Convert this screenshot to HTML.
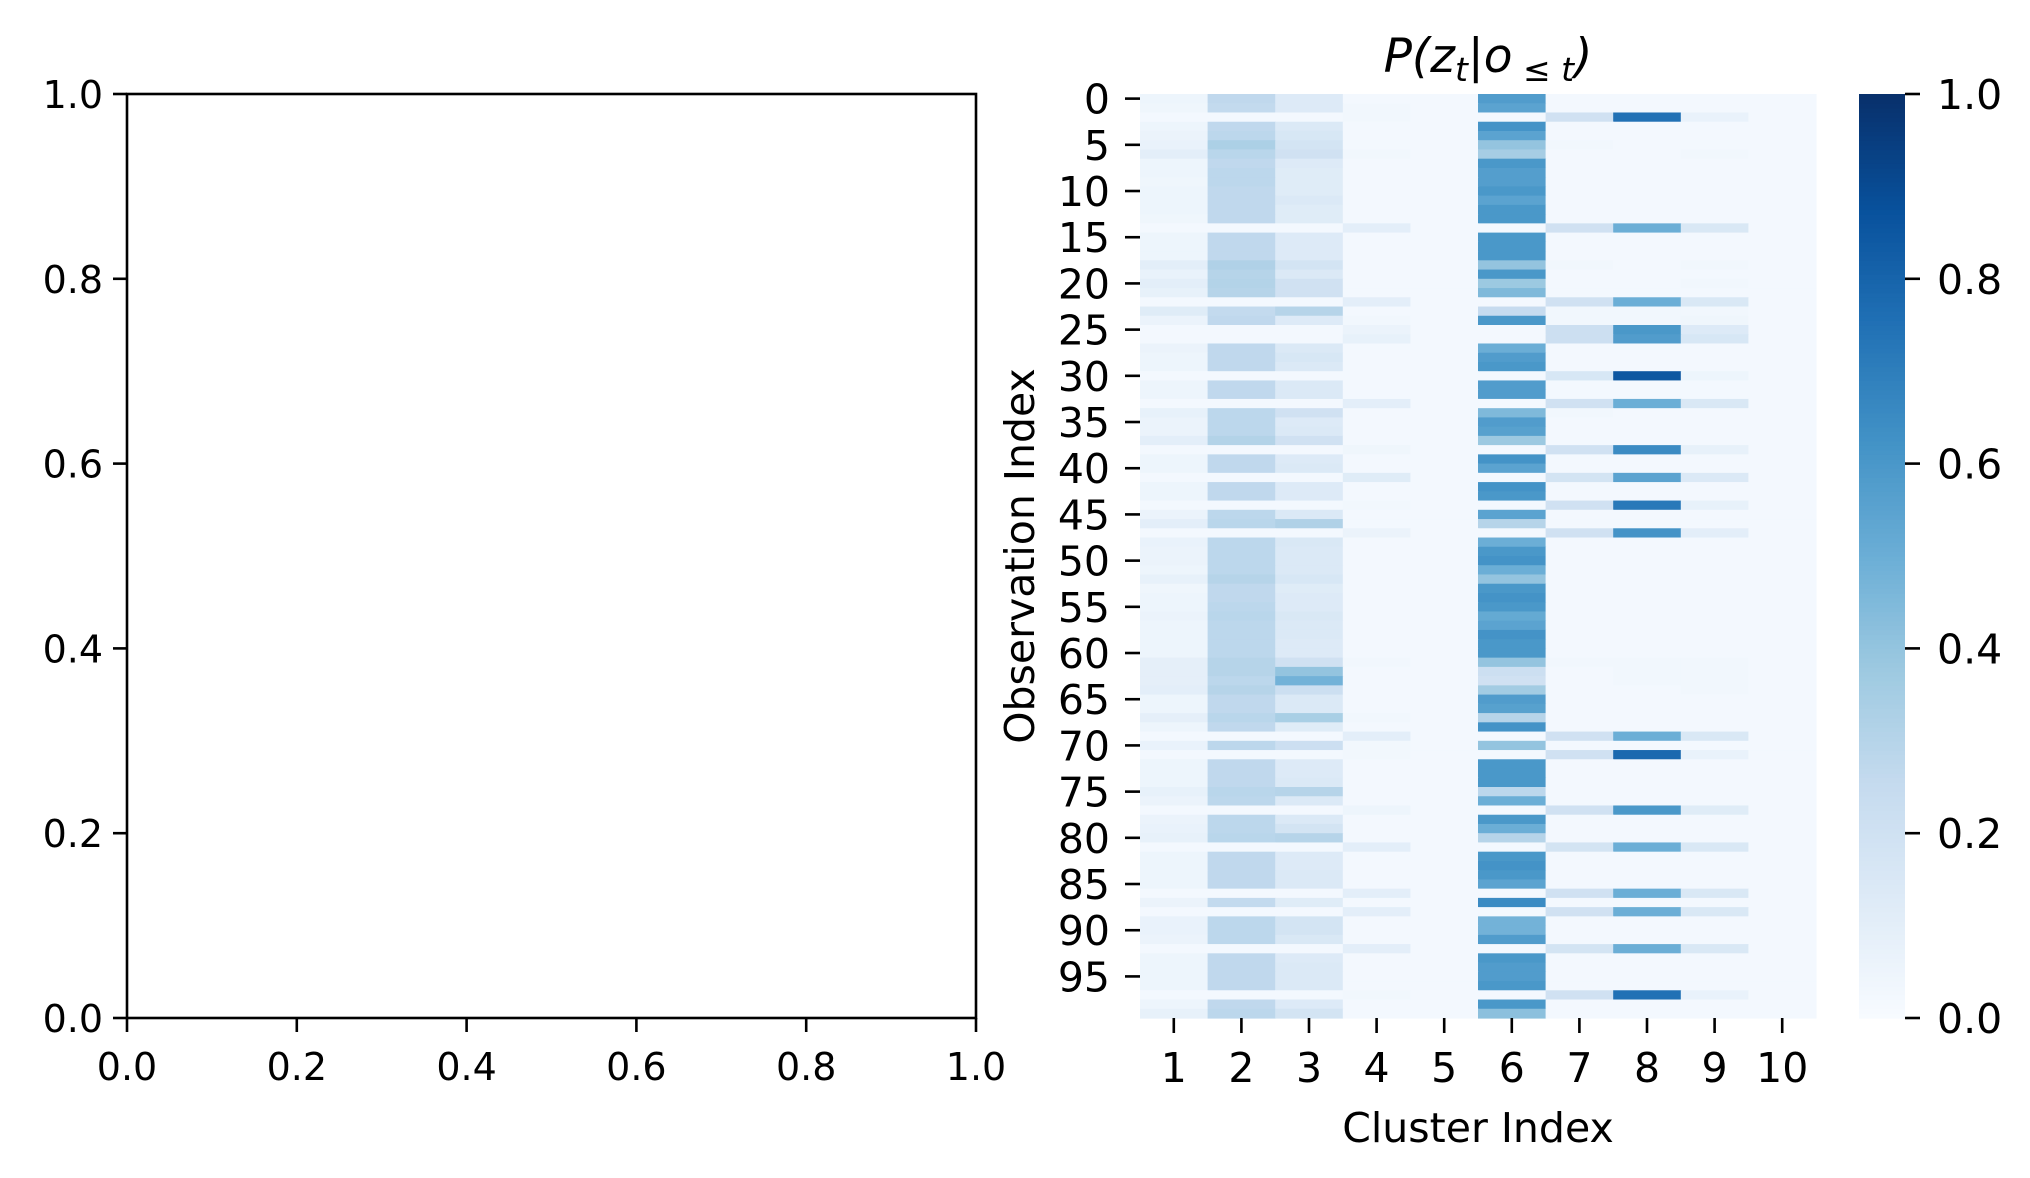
<!DOCTYPE html>
<html><head><meta charset="utf-8"><style>
html,body{margin:0;padding:0;background:#fff;}
svg{display:block;font-family:"DejaVu Sans","Liberation Sans",sans-serif;}
</style></head><body>
<svg id="fig" width="2030" height="1178" viewBox="0 0 2030 1178" xmlns="http://www.w3.org/2000/svg">
<rect width="2030" height="1178" fill="#fff"/>
<g id="left"></g>
<g id="heat"></g>
<g id="cbar"></g>
<text x="1488" y="72" font-size="47" text-anchor="middle" font-style="italic">P(z<tspan font-size="33" dy="9">t</tspan><tspan dy="-9" font-style="normal">|</tspan>o<tspan font-size="33" dy="9"> ≤ t</tspan><tspan dy="-9">)</tspan></text>
<text x="1478" y="1142" font-size="41" text-anchor="middle">Cluster Index</text>
<text transform="translate(1034,556) rotate(-90)" font-size="41" text-anchor="middle">Observation Index</text>
</svg>
<script>
const clusters = [1,2,3,4,5,6,7,8,9,10];
const leftTicks = [0.0,0.2,0.4,0.6,0.8,1.0];
const cbarTicks = [0.0,0.2,0.4,0.6,0.8,1.0];
const values = [
[.05,.27,.13,.02,.02,.58,.02,.02,.02,.02],
[.04,.26,.13,.03,.02,.55,.02,.02,.02,.02],
[.02,.02,.02,.03,.02,.02,.20,.75,.07,.02],
[.05,.27,.14,.02,.02,.62,.02,.02,.02,.02],
[.06,.28,.16,.02,.02,.55,.02,.02,.02,.02],
[.07,.33,.18,.02,.02,.40,.03,.02,.02,.02],
[.10,.29,.20,.03,.02,.35,.02,.02,.03,.02],
[.05,.27,.13,.02,.02,.60,.02,.02,.02,.02],
[.05,.28,.12,.02,.02,.57,.02,.02,.02,.02],
[.04,.28,.12,.02,.02,.57,.02,.02,.02,.02],
[.05,.27,.12,.02,.02,.60,.02,.02,.02,.02],
[.05,.27,.14,.02,.02,.55,.02,.02,.02,.02],
[.05,.27,.12,.02,.02,.60,.02,.02,.02,.02],
[.04,.27,.12,.02,.02,.60,.02,.02,.02,.02],
[.02,.02,.02,.10,.02,.02,.20,.50,.15,.02],
[.05,.27,.13,.02,.02,.60,.02,.02,.02,.02],
[.05,.27,.13,.02,.02,.60,.02,.02,.02,.02],
[.05,.27,.13,.02,.02,.60,.02,.02,.02,.02],
[.10,.32,.18,.02,.02,.40,.03,.02,.03,.02],
[.07,.30,.14,.02,.02,.60,.02,.02,.02,.02],
[.10,.31,.20,.02,.02,.38,.02,.02,.03,.02],
[.08,.30,.20,.02,.02,.45,.02,.02,.02,.02],
[.02,.02,.02,.10,.02,.02,.20,.50,.15,.02],
[.12,.26,.30,.02,.02,.25,.03,.03,.03,.02],
[.06,.27,.13,.03,.02,.60,.03,.03,.04,.02],
[.02,.02,.02,.06,.02,.02,.22,.60,.13,.02],
[.02,.02,.02,.08,.02,.02,.22,.58,.16,.02],
[.06,.27,.14,.02,.02,.50,.02,.02,.02,.02],
[.05,.27,.16,.02,.02,.58,.02,.02,.02,.02],
[.05,.27,.14,.02,.02,.60,.02,.02,.02,.02],
[.02,.02,.02,.02,.02,.02,.16,.85,.05,.02],
[.05,.27,.14,.02,.02,.58,.02,.02,.02,.02],
[.05,.27,.14,.02,.02,.58,.02,.02,.02,.02],
[.02,.02,.02,.10,.02,.02,.20,.50,.15,.02],
[.08,.28,.20,.02,.02,.45,.03,.02,.02,.02],
[.06,.28,.13,.02,.02,.58,.02,.02,.02,.02],
[.06,.28,.14,.02,.02,.56,.02,.02,.02,.02],
[.10,.31,.20,.02,.02,.38,.02,.02,.02,.02],
[.02,.02,.02,.04,.02,.02,.20,.65,.08,.02],
[.05,.27,.13,.02,.02,.62,.02,.02,.02,.02],
[.05,.27,.14,.02,.02,.55,.02,.02,.02,.02],
[.02,.02,.02,.12,.02,.02,.18,.55,.14,.02],
[.05,.27,.13,.02,.02,.62,.02,.02,.02,.02],
[.05,.27,.13,.02,.02,.60,.02,.02,.02,.02],
[.02,.02,.02,.03,.02,.02,.20,.72,.08,.02],
[.06,.28,.14,.02,.02,.55,.02,.02,.02,.02],
[.10,.29,.32,.02,.02,.30,.02,.02,.02,.02],
[.02,.02,.02,.06,.02,.02,.20,.62,.10,.02],
[.07,.28,.15,.02,.02,.50,.02,.02,.02,.02],
[.06,.28,.14,.02,.02,.60,.02,.02,.02,.02],
[.06,.28,.14,.02,.02,.62,.02,.02,.02,.02],
[.05,.28,.14,.02,.02,.50,.02,.02,.02,.02],
[.08,.30,.16,.02,.02,.40,.02,.02,.02,.02],
[.04,.27,.12,.02,.02,.60,.02,.02,.02,.02],
[.05,.27,.13,.02,.02,.62,.02,.02,.02,.02],
[.05,.28,.13,.02,.02,.60,.02,.02,.02,.02],
[.06,.29,.15,.02,.02,.52,.02,.02,.02,.02],
[.05,.28,.14,.02,.02,.55,.02,.02,.02,.02],
[.05,.28,.14,.02,.02,.62,.02,.02,.02,.02],
[.05,.28,.13,.02,.02,.60,.02,.02,.02,.02],
[.05,.28,.13,.02,.02,.60,.02,.02,.02,.02],
[.09,.30,.20,.03,.02,.40,.03,.03,.03,.02],
[.09,.30,.40,.02,.02,.22,.02,.03,.03,.02],
[.09,.28,.48,.02,.02,.20,.02,.03,.03,.02],
[.10,.30,.22,.02,.02,.36,.02,.02,.03,.02],
[.05,.27,.14,.02,.02,.58,.02,.02,.02,.02],
[.05,.27,.14,.02,.02,.56,.02,.02,.02,.02],
[.09,.29,.34,.03,.02,.30,.02,.02,.02,.02],
[.05,.27,.12,.02,.02,.62,.02,.02,.02,.02],
[.02,.02,.02,.10,.02,.02,.20,.50,.15,.02],
[.07,.28,.22,.03,.02,.40,.02,.02,.02,.02],
[.02,.02,.02,.03,.02,.02,.20,.78,.07,.02],
[.05,.27,.13,.02,.02,.60,.02,.02,.02,.02],
[.05,.27,.13,.02,.02,.60,.02,.02,.02,.02],
[.05,.27,.14,.02,.02,.60,.02,.02,.02,.02],
[.08,.29,.30,.02,.02,.28,.02,.02,.02,.02],
[.06,.28,.14,.02,.02,.50,.02,.02,.02,.02],
[.02,.02,.02,.05,.02,.02,.20,.60,.12,.02],
[.06,.28,.14,.02,.02,.60,.02,.02,.02,.02],
[.07,.28,.18,.02,.02,.50,.02,.02,.02,.02],
[.08,.29,.30,.02,.02,.30,.02,.02,.02,.02],
[.02,.02,.02,.10,.02,.02,.18,.50,.15,.02],
[.05,.27,.13,.02,.02,.60,.02,.02,.02,.02],
[.05,.27,.13,.02,.02,.62,.02,.02,.02,.02],
[.05,.27,.14,.02,.02,.60,.02,.02,.02,.02],
[.05,.27,.14,.02,.02,.55,.02,.02,.02,.02],
[.02,.02,.02,.10,.02,.02,.20,.50,.15,.02],
[.06,.26,.12,.02,.02,.65,.02,.02,.02,.02],
[.02,.02,.02,.10,.02,.02,.20,.50,.15,.02],
[.07,.28,.18,.02,.02,.48,.02,.02,.02,.02],
[.07,.28,.18,.02,.02,.48,.02,.02,.02,.02],
[.06,.28,.15,.02,.02,.58,.02,.02,.02,.02],
[.02,.02,.02,.10,.02,.02,.18,.50,.15,.02],
[.05,.27,.13,.02,.02,.60,.02,.02,.02,.02],
[.05,.27,.14,.02,.02,.58,.02,.02,.02,.02],
[.05,.27,.14,.02,.02,.58,.02,.02,.02,.02],
[.05,.27,.14,.02,.02,.60,.02,.02,.02,.02],
[.02,.02,.02,.03,.02,.02,.20,.75,.07,.02],
[.05,.27,.13,.02,.02,.60,.02,.02,.02,.02],
[.08,.28,.18,.02,.02,.42,.02,.02,.02,.02]
];
const NS='http://www.w3.org/2000/svg';
function mk(tag,attrs,parent){const e=document.createElementNS(NS,tag);for(const k in attrs)e.setAttribute(k,attrs[k]);parent.appendChild(e);return e;}
const stops=[[247,251,255],[222,235,247],[198,219,239],[158,202,225],[107,174,214],[66,146,198],[33,113,181],[8,81,156],[8,48,107]];
function blues(v){v=Math.max(0,Math.min(1,v));const p=v*8;const i=Math.min(7,Math.floor(p));const f=p-i;const a=stops[i],b=stops[i+1];
return 'rgb('+a.map((c,k)=>Math.round(c+(b[k]-c)*f)).join(',')+')';}

const L={x0:127,x1:976,y0:94,y1:1018};
const lx=v=>L.x0+(L.x1-L.x0)*v, ly=v=>L.y1-(L.y1-L.y0)*v;
const left=document.getElementById('left');
leftTicks.forEach(t=>{
  const tk=mk('line',{x1:lx(t),x2:lx(t),y1:L.y1,y2:L.y1+14,stroke:'#000','stroke-width':2.6},left);
  
  
  const tx=mk('text',{x:lx(t),y:L.y1+62,'font-size':38,'text-anchor':'middle'},left);
  tx.textContent=t.toFixed(1);
  
  
  const tk2=mk('line',{x1:L.x0-14,x2:L.x0,y1:ly(t),y2:ly(t),stroke:'#000','stroke-width':2.6},left);
  
  
  const ty=mk('text',{x:L.x0-24,y:ly(t)+14,'font-size':38,'text-anchor':'end'},left);
  ty.textContent=t.toFixed(1);
  
  
});
const frame=mk('rect',{x:L.x0,y:L.y0,width:L.x1-L.x0,height:L.y1-L.y0,fill:'none',stroke:'#000','stroke-width':2.6},left);



const H={x0:1140,x1:1816,y0:94,y1:1018};
const nR=values.length,nC=clusters.length;
const cw=(H.x1-H.x0)/nC, rh=(H.y1-H.y0)/nR;
const hx=c=>H.x0+cw*c, hy=r=>H.y0+rh*r;
const heat=document.getElementById('heat');
values.forEach((row,r)=>row.forEach((v,c)=>{
  const cell=mk('rect',{x:hx(c),y:hy(r),width:cw+0.6,height:rh+0.6,fill:blues(v)},heat);
  
  
}));
clusters.forEach((lab,c)=>{
  const x=hx(c)+cw/2;
  const tk=mk('line',{x1:x,x2:x,y1:H.y1,y2:H.y1+15,stroke:'#000','stroke-width':2.6},heat);
  
  
  const t=mk('text',{x:x,y:H.y1+64,'font-size':41,'text-anchor':'middle'},heat);
  t.textContent=lab;
  
  
});
for(let r=0;r<nR;r+=5){
  const y=hy(r)+rh/2;
  const tk=mk('line',{x1:H.x0-15,x2:H.x0,y1:y,y2:y,stroke:'#000','stroke-width':2.6},heat);
  
  
  const t=mk('text',{x:H.x0-30,y:y+15,'font-size':41,'text-anchor':'end'},heat);
  t.textContent=r;
  
  
}

const C={x0:1859,x1:1905,y0:94,y1:1018};
const cy=v=>C.y1-(C.y1-C.y0)*v;
const cbar=document.getElementById('cbar');
for(let i=0;i<200;i++){
  const v0=i/200,v1=(i+1)/200;
  const seg=mk('rect',{x:C.x0,y:cy(v1),width:C.x1-C.x0,height:(C.y1-C.y0)/200+0.6,fill:blues((v0+v1)/2)},cbar);
  
  
}
cbarTicks.forEach(t=>{
  const tk=mk('line',{x1:C.x1,x2:C.x1+15,y1:cy(t),y2:cy(t),stroke:'#000','stroke-width':2.6},cbar);
  
  
  const tx=mk('text',{x:C.x1+32,y:cy(t)+15,'font-size':41},cbar);
  tx.textContent=t.toFixed(1);
  
  
});
</script>
</body></html>
